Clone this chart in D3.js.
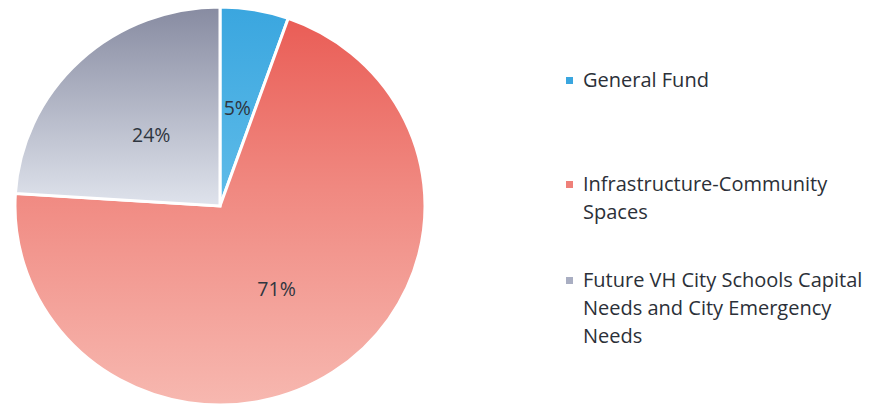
<!DOCTYPE html>
<html>
<head>
<meta charset="utf-8">
<script src="https://cdn.jsdelivr.net/npm/d3@7"></script>
<style>
  html, body { margin: 0; padding: 0; background: #fff; }
  svg { display: block; }
</style>
</head>
<body>
<div id="chart"></div>
<script>
// categorías y porcentajes
const CATEGORIES = ["General Fund", "Infrastructure-Community Spaces", "Future VH City Schools Capital Needs and City Emergency Needs"];
const VALUES = [5.4, 70.6, 24.0];
const LEGEND_LINES = [
  ["General Fund"],
  ["Infrastructure-Community", "Spaces"],
  ["Future VH City Schools Capital", "Needs and City Emergency", "Needs"]
];

const W = 871, H = 408;
const cx = 220, cy = 206;
const rx = 205, ry = 199;

const svg = d3.select("#chart").append("svg").attr("width", W).attr("height", H);
const defs = svg.append("defs");

// degradados verticales (top -> bottom) por porción
const GRADS = [
  { id: "g-blue", stops: [["0%", "#3aa6df"], ["100%", "#5fbce9"]], y0: cy - ry, y1: cy },
  { id: "g-red",  stops: [["0%", "#e95a53"], ["45%", "#f08880"], ["100%", "#f7b8b0"]], y0: cy - ry, y1: cy + ry },
  { id: "g-grey", stops: [["0%", "#878ba1"], ["100%", "#dfe3ec"]], y0: cy - ry, y1: cy }
];

const SWATCH = ["#3aa6df", "#ef8079", "#a9aec2"];

// el pastel está ligeramente achatado en la imagen: escala en y
const k = ry / rx;
GRADS.forEach(g => {
  const lg = defs.append("linearGradient")
    .attr("id", g.id)
    .attr("gradientUnits", "userSpaceOnUse")
    .attr("x1", 0).attr("x2", 0)
    .attr("y1", (g.y0 - cy) / k).attr("y2", (g.y1 - cy) / k);
  g.stops.forEach(s => lg.append("stop").attr("offset", s[0]).attr("stop-color", s[1]));
});

const pie = d3.pie().sort(null).value(d => d);
const arcs = pie(VALUES);

const g = svg.append("g")
  .attr("transform", `translate(${cx},${cy}) scale(1,${k})`);

const arc = d3.arc().innerRadius(0).outerRadius(rx);

g.selectAll("path.slice")
  .data(arcs)
  .join("path")
    .attr("class", "slice")
    .attr("d", arc)
    .attr("fill", (d, i) => `url(#${GRADS[i].id})`)
    .attr("stroke", "#fff")
    .attr("stroke-width", 3)
    .attr("stroke-linejoin", "miter");

// etiquetas de porcentaje
const LABEL_POS = [0.5, 0.5, 0.49];
svg.append("g").selectAll("text")
  .data(arcs)
  .join("text")
    .attr("x", (d, i) => cx + Math.sin((d.startAngle + d.endAngle) / 2) * rx * LABEL_POS[i])
    .attr("y", (d, i) => cy - Math.cos((d.startAngle + d.endAngle) / 2) * ry * LABEL_POS[i])
    .attr("text-anchor", "middle")
    .attr("dominant-baseline", "central")
    .attr("font-family", "'Open Sans', sans-serif")
    .attr("font-size", 19.5)
    .attr("fill", "#2f3640")
    .text(d => Math.round(d.value) + "%");

// leyenda
const LEG_X = 566, LEG_Y = [80, 184, 280], LINE_H = 28;
const leg = svg.append("g").selectAll("g")
  .data(CATEGORIES)
  .join("g")
    .attr("transform", (d, i) => `translate(${LEG_X},${LEG_Y[i]})`);

leg.append("rect")
  .attr("x", 0).attr("y", -3)
  .attr("width", 7).attr("height", 7)
  .attr("fill", (d, i) => SWATCH[i]);

leg.append("text")
  .attr("font-family", "'Open Sans', sans-serif")
  .attr("font-size", 20)
  .attr("fill", "#2b3038")
  .selectAll("tspan")
  .data((d, i) => LEGEND_LINES[i])
  .join("tspan")
    .attr("x", 17)
    .attr("y", (d, j) => 7 + j * LINE_H)
    .text(d => d);
</script>
</body>
</html>
